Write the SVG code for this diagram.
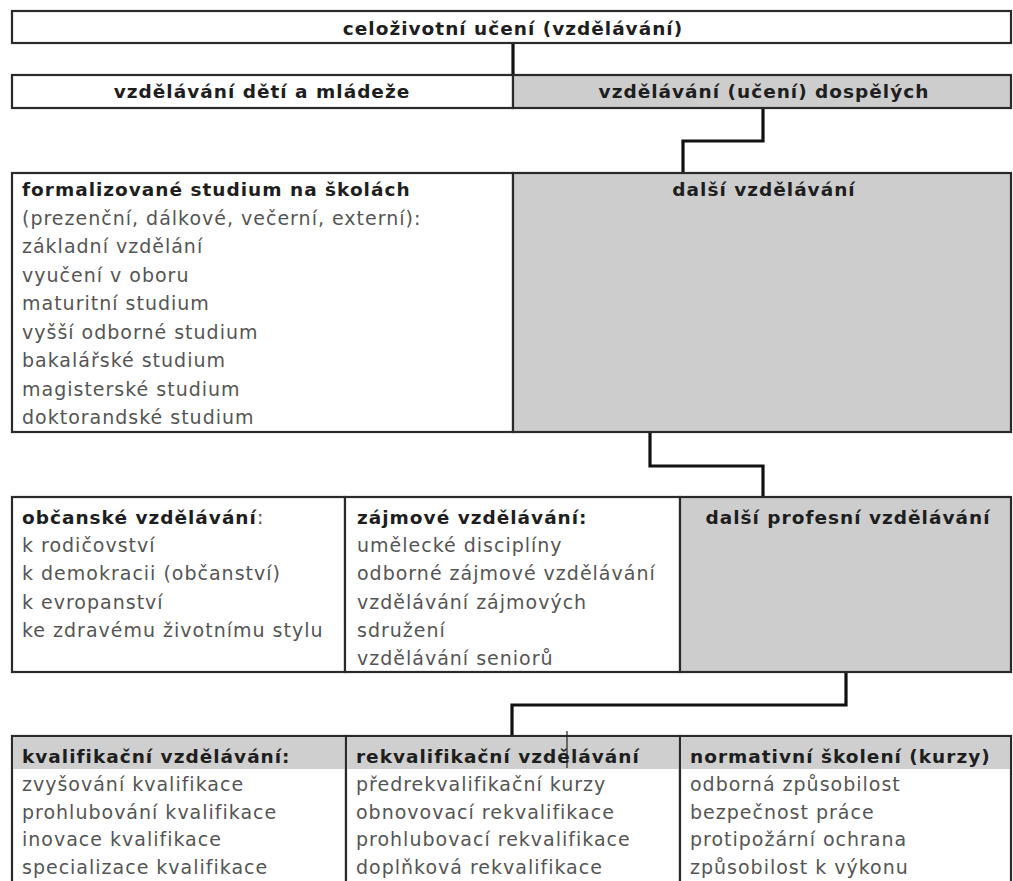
<svg xmlns="http://www.w3.org/2000/svg" width="1013" height="881" viewBox="0 0 1013 881">
<style>
.box{fill:#fff;stroke:#2a2a2a;stroke-width:2.2}
.grey{fill:#cdcdcd;stroke:#2a2a2a;stroke-width:2.2}
.band{fill:#cfcfcf;stroke:none}
.con{stroke:#111;stroke-width:3.2;fill:none}
.h{font-family:"DejaVu Sans",Verdana,sans-serif;font-weight:bold;font-size:18.5px;letter-spacing:1px;fill:#1e1e1e}
.t{font-family:"DejaVu Sans",Verdana,sans-serif;font-size:19px;letter-spacing:1px;fill:#555}
.c{text-anchor:middle}
</style>
<rect width="1013" height="881" fill="#fff"/>
<g id="connectors">
<path class="con" d="M513,43 V75"/>
<path class="con" d="M763,108 V141 H683 V173"/>
<path class="con" d="M650,432 V466 H763 V497"/>
<path class="con" d="M846,672 V705 H512 V736"/>
</g>
<g id="n-celozivotni">
<rect class="box" x="12" y="11" width="999" height="32"/>
<text class="h c" x="513" y="35">celoživotní učení (vzdělávání)</text>
</g>
<g id="n-deti">
<rect class="box" x="12" y="75" width="501" height="33"/>
<text class="h c" x="262" y="98">vzdělávání dětí a mládeže</text>
</g>
<g id="n-dospelych">
<rect class="grey" x="513" y="75" width="498" height="33"/>
<text class="h c" x="764" y="98">vzdělávání (učení) dospělých</text>
</g>
<g id="n-formalizovane">
<rect class="box" x="12" y="173" width="501" height="259"/>
<text class="h" x="22" y="196">formalizované studium na školách</text>
<text class="t" x="22" y="225">(prezenční, dálkové, večerní, externí):</text>
<text class="t" x="22" y="253">základní vzdělání</text>
<text class="t" x="22" y="282">vyučení v oboru</text>
<text class="t" x="22" y="310">maturitní studium</text>
<text class="t" x="22" y="339">vyšší odborné studium</text>
<text class="t" x="22" y="367">bakalářské studium</text>
<text class="t" x="22" y="396">magisterské studium</text>
<text class="t" x="22" y="424">doktorandské studium</text>
</g>
<g id="n-dalsi">
<rect class="grey" x="513" y="173" width="498" height="259"/>
<text class="h c" x="764" y="196">další vzdělávání</text>
</g>
<g id="n-obcanske">
<rect class="box" x="12" y="497" width="333" height="175"/>
<text x="22" y="524"><tspan class="h">občanské vzdělávání</tspan><tspan class="t">:</tspan></text>
<text class="t" x="22" y="552">k rodičovství</text>
<text class="t" x="22" y="580">k demokracii (občanství)</text>
<text class="t" x="22" y="609">k evropanství</text>
<text class="t" x="22" y="637">ke zdravému životnímu stylu</text>
</g>
<g id="n-zajmove">
<rect class="box" x="345" y="497" width="335" height="175"/>
<text class="h" x="357" y="524">zájmové vzdělávání:</text>
<text class="t" x="357" y="552">umělecké disciplíny</text>
<text class="t" x="357" y="580">odborné zájmové vzdělávání</text>
<text class="t" x="357" y="609">vzdělávání zájmových</text>
<text class="t" x="357" y="637">sdružení</text>
<text class="t" x="357" y="665">vzdělávání seniorů</text>
</g>
<g id="n-profesni">
<rect class="grey" x="680" y="497" width="331" height="175"/>
<text class="h c" x="848" y="524">další profesní vzdělávání</text>
</g>
<g id="n-kvalifikacni">
<rect class="box" x="12" y="736" width="334" height="160"/>
<rect class="band" x="13" y="737" width="332" height="32"/>
<text class="h" x="22" y="763">kvalifikační vzdělávání:</text>
<text class="t" x="22" y="791">zvyšování kvalifikace</text>
<text class="t" x="22" y="819">prohlubování kvalifikace</text>
<text class="t" x="22" y="846">inovace kvalifikace</text>
<text class="t" x="22" y="874">specializace kvalifikace</text>
</g>
<g id="n-rekvalifikacni">
<rect class="box" x="346" y="736" width="334" height="160"/>
<rect class="band" x="347" y="737" width="332" height="32"/>
<text class="h" x="356" y="763">rekvalifikační vzdělávání</text>
<text class="t" x="356" y="791">předrekvalifikační kurzy</text>
<text class="t" x="356" y="819">obnovovací rekvalifikace</text>
<text class="t" x="356" y="846">prohlubovací rekvalifikace</text>
<text class="t" x="356" y="874">doplňková rekvalifikace</text>
<path d="M567,731 V768" stroke="#222" stroke-width="1.2"/>
</g>
<g id="n-normativni">
<rect class="box" x="680" y="736" width="331" height="160"/>
<rect class="band" x="681" y="737" width="329" height="32"/>
<text class="h" x="690" y="763">normativní školení (kurzy)</text>
<text class="t" x="690" y="791">odborná způsobilost</text>
<text class="t" x="690" y="819">bezpečnost práce</text>
<text class="t" x="690" y="846">protipožární ochrana</text>
<text class="t" x="690" y="874">způsobilost k výkonu</text>
</g>
</svg>
